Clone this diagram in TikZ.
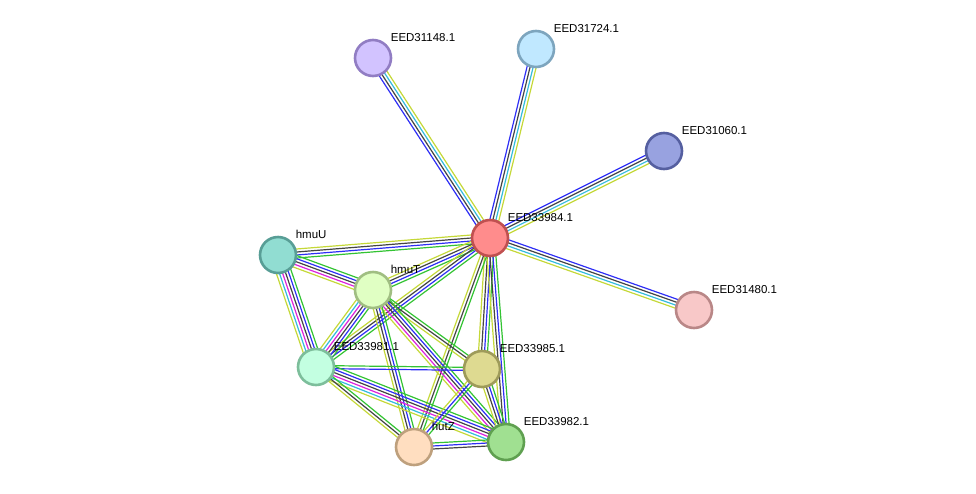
\documentclass[tikz,border=0pt]{standalone}
\usepackage{fontspec}
\setmainfont{Liberation Sans}
\usepackage{xcolor}
\usetikzlibrary{positioning, calc, backgrounds}

\definecolor{lgreen}{HTML}{33C333}
\definecolor{lblue}{HTML}{2E2EF5}
\definecolor{lblack}{HTML}{444444}
\definecolor{lmagenta}{HTML}{DD22DD}
\definecolor{lcyan}{HTML}{33BBDD}
\definecolor{lyellow}{HTML}{C5D838}

\newcommand{\linkedge}[4]{%
  \foreach \c [count=\i] in {#4}{
    \pgfmathsetmacro{\off}{((#3+1)/2-\i)*3}
    \draw[draw=\c, link] ($(#1)!\off pt!90:(#2)$) -- ($(#2)!\off pt!-90:(#1)$);
  }}

\begin{document}
\begin{tikzpicture}[x=1pt, y=-1pt,
    prot/.style={circle, minimum size=36pt, inner sep=0pt, line width=2.6pt},
    lab/.style={font=\fontsize{11.5}{13}\selectfont, inner sep=1pt, xshift=3pt, yshift=2pt},
    link/.style={line width=1.2pt}]
        \useasboundingbox (0,0) rectangle (976,493);
        \node[prot, fill={rgb,255:red,255;green,140;blue,140}, draw={rgb,255:red,192;green,80;blue,80},
          label={[lab]45:EED33984.1}] (n33984) at (490,238) {};
        \node[prot, fill={rgb,255:red,210;green,195;blue,255}, draw={rgb,255:red,145;green,125;blue,195},
          label={[lab]45:EED31148.1}] (n31148) at (373,58) {};
        \node[prot, fill={rgb,255:red,192;green,232;blue,255}, draw={rgb,255:red,125;green,165;blue,190},
          label={[lab]45:EED31724.1}] (n31724) at (536,49) {};
        \node[prot, fill={rgb,255:red,152;green,162;blue,224}, draw={rgb,255:red,85;green,95;blue,160},
          label={[lab]45:EED31060.1}] (n31060) at (664,151) {};
        \node[prot, fill={rgb,255:red,248;green,200;blue,200}, draw={rgb,255:red,185;green,135;blue,135},
          label={[lab]45:EED31480.1}] (n31480) at (694,310) {};
        \node[prot, fill={rgb,255:red,145;green,221;blue,210}, draw={rgb,255:red,88;green,158;blue,150},
          label={[lab]45:hmuU}] (hmuU) at (278,255) {};
        \node[prot, fill={rgb,255:red,224;green,255;blue,195}, draw={rgb,255:red,160;green,190;blue,130},
          label={[lab]45:hmuT}] (hmuT) at (373,290) {};
        \node[prot, fill={rgb,255:red,195;green,255;blue,225}, draw={rgb,255:red,125;green,190;blue,155},
          label={[lab]45:EED33981.1}] (n33981) at (316,367) {};
        \node[prot, fill={rgb,255:red,222;green,218;blue,145}, draw={rgb,255:red,158;green,155;blue,90},
          label={[lab]45:EED33985.1}] (n33985) at (482,369) {};
        \node[prot, fill={rgb,255:red,255;green,222;blue,192}, draw={rgb,255:red,190;green,160;blue,125},
          label={[lab]45:hutZ}] (hutZ) at (414,447) {};
        \node[prot, fill={rgb,255:red,160;green,224;blue,145}, draw={rgb,255:red,95;green,160;blue,80},
          label={[lab]45:EED33982.1}] (n33982) at (506,442) {};

        \begin{scope}[on background layer]
        \linkedge{n33984}{n31148}{4}{lblue,lblack,lcyan,lyellow}
        \linkedge{n33984}{n31724}{4}{lblue,lblack,lcyan,lyellow}
        \linkedge{n33984}{n31060}{4}{lblue,lblack,lcyan,lyellow}
        \linkedge{n33984}{n31480}{4}{lblue,lblack,lcyan,lyellow}
        \linkedge{n33984}{hmuU}{4}{lgreen,lblue,lblack,lyellow}
        \linkedge{n33984}{hmuT}{4}{lgreen,lblue,lblack,lyellow}
        \linkedge{n33984}{n33981}{4}{lgreen,lblue,lblack,lyellow}
        \linkedge{n33984}{n33985}{4}{lgreen,lblue,lblack,lyellow}
        \linkedge{n33984}{n33982}{4}{lgreen,lblue,lblack,lyellow}
        \linkedge{n33984}{hutZ}{3}{lgreen,lblack,lyellow}
        \linkedge{hmuU}{hmuT}{5}{lgreen,lblue,lblack,lmagenta,lyellow}
        \linkedge{hmuU}{n33981}{6}{lgreen,lblue,lblack,lmagenta,lcyan,lyellow}
        \linkedge{hmuT}{n33981}{6}{lgreen,lblue,lblack,lmagenta,lcyan,lyellow}
        \linkedge{hmuT}{n33985}{3}{lgreen,lblack,lyellow}
        \linkedge{hmuT}{n33982}{5}{lgreen,lblue,lblack,lmagenta,lyellow}
        \linkedge{hmuT}{hutZ}{4}{lgreen,lblue,lblack,lyellow}
        \linkedge{n33981}{n33985}{2}{lgreen,lblue}
        \linkedge{n33981}{n33982}{6}{lgreen,lblue,lblack,lmagenta,lcyan,lyellow}
        \linkedge{n33981}{hutZ}{3}{lgreen,lblack,lyellow}
        \linkedge{n33985}{hutZ}{3}{lgreen,lblue,lyellow}
        \linkedge{n33985}{n33982}{4}{lgreen,lblue,lblack,lyellow}
        \linkedge{hutZ}{n33982}{3}{lgreen,lblue,lblack}
        \end{scope}
      \end{tikzpicture}
\end{document}
